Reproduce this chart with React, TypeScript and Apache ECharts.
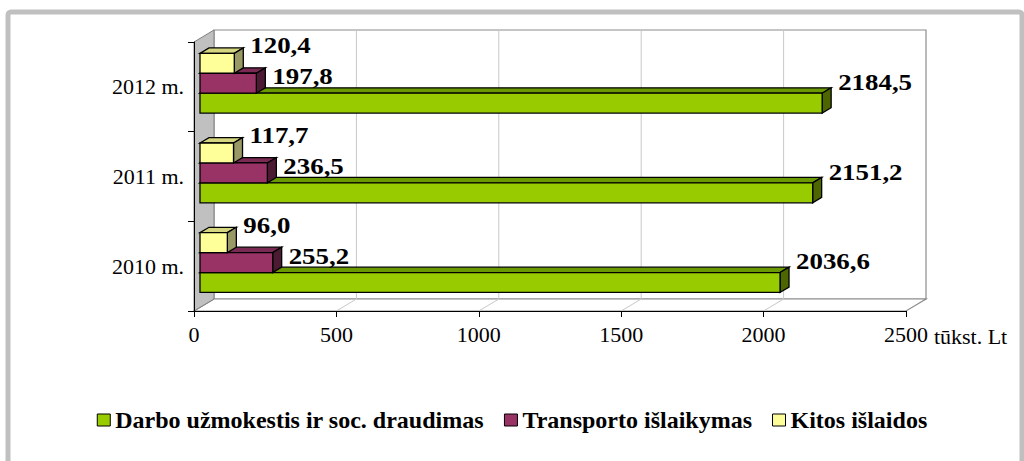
import React, { useEffect, useRef } from "react";
import * as echarts from "echarts";

const categories = ["2010 m.", "2011 m.", "2012 m."];
const seriesNames = ["Darbo užmokestis ir soc. draudimas", "Transporto išlaikymas", "Kitos išlaidos"];
const wages = [2036.6, 2151.2, 2184.5];
const transport = [255.2, 236.5, 197.8];
const other = [96.0, 117.7, 120.4];
const xTicks = [0, 500, 1000, 1500, 2000, 2500];

const FONT = "Liberation Serif, Times New Roman, serif";
// depth of the 3D plot box (pixels)
const DEPTH = { x: 20, y: -12 };
const BAR_FRONT = 0.3;
const BAR_BACK = 0.75;

const faceColors = [
  { front: "#99cc00", top: "#6b9900", side: "#4d6600" },
  { front: "#993366", top: "#7a2952", side: "#4d1a33" },
  { front: "#ffff99", top: "#d6d680", side: "#999966" },
];
const labelLift = [-21, -7, -18];

function makeBarRenderer(s: number) {
  return (params: any, api: any) => {
    const value = api.value(0);
    const cat = api.value(1);
    const start = api.coord([0, cat]);
    const end = api.coord([value, cat]);
    const bandH = api.size([0, 1])[1];
    const w = bandH / 4.5;
    const yc = start[1];
    const top0 = yc + 0.5 * w - s * w;
    const fx = DEPTH.x * BAR_FRONT;
    const fy = DEPTH.y * BAR_FRONT;
    const ddx = DEPTH.x * (BAR_BACK - BAR_FRONT);
    const ddy = DEPTH.y * (BAR_BACK - BAR_FRONT);
    const x0 = start[0] + fx;
    const x1 = end[0] + fx;
    const yt = top0 + fy;
    const yb = yt + w;
    const c = faceColors[s];
    const line = { stroke: "#000", lineWidth: 1.3, lineJoin: "miter" };
    const label = value.toFixed(1).replace(".", ",");
    return {
      type: "group",
      children: [
        {
          type: "polygon",
          shape: { points: [[x0, yt], [x1, yt], [x1 + ddx, yt + ddy], [x0 + ddx, yt + ddy]] },
          style: { fill: c.top, ...line },
        },
        {
          type: "polygon",
          shape: { points: [[x1, yt], [x1 + ddx, yt + ddy], [x1 + ddx, yb + ddy], [x1, yb]] },
          style: { fill: c.side, ...line },
        },
        {
          type: "rect",
          shape: { x: x0, y: yt, width: x1 - x0, height: w },
          style: { fill: c.front, ...line },
        },
        {
          type: "text",
          x: x1 + ddx + 7,
          y: yt + w / 2 + labelLift[s],
          scaleX: 1.12,
          style: {
            text: label,
            font: `bold 24px ${FONT}`,
            fill: "#000",
            align: "left",
            verticalAlign: "middle",
          },
        },
      ],
    };
  };
}

function renderWalls(params: any, api: any) {
  const cs = params.coordSys;
  const x0 = cs.x;
  const y0 = cs.y;
  const x1 = cs.x + cs.width;
  const y1 = cs.y + cs.height;
  const dx = DEPTH.x;
  const dy = DEPTH.y;
  const children: any[] = [];
  children.push({
    type: "rect",
    shape: { x: x0 + dx, y: y0 + dy, width: cs.width, height: cs.height },
    style: { fill: "#fff", stroke: "#8c8c8c", lineWidth: 1.2 },
  });
  children.push({
    type: "polygon",
    shape: { points: [[x0, y1], [x1, y1], [x1 + dx, y1 + dy], [x0 + dx, y1 + dy]] },
    style: { fill: "#fff", stroke: "#8c8c8c", lineWidth: 1.2 },
  });
  xTicks.forEach((v, i) => {
    if (i === 0 || i === xTicks.length - 1) return;
    const X = api.coord([v, 0])[0];
    children.push({
      type: "line",
      shape: { x1: X + dx, y1: y0 + dy, x2: X + dx, y2: y1 + dy },
      style: { stroke: "#c8c8c8", lineWidth: 1 },
    });
    children.push({
      type: "line",
      shape: { x1: X, y1: y1, x2: X + dx, y2: y1 + dy },
      style: { stroke: "#c8c8c8", lineWidth: 1 },
    });
  });
  children.push({
    type: "polygon",
    shape: { points: [[x0, y0], [x0 + dx, y0 + dy], [x0 + dx, y1 + dy], [x0, y1]] },
    style: { fill: "#c0c0c0", stroke: "#808080", lineWidth: 1 },
  });
  return { type: "group", children };
}

export default function App() {
  const ref = useRef<HTMLDivElement>(null);
  useEffect(() => {
    if (!ref.current) return;
    const chart = echarts.init(ref.current, undefined, { renderer: "svg" });
    const valueSets = [wages, transport, other];
    const option: any = {
      animation: false,
      backgroundColor: "#fff",
      grid: { left: 194, right: 118, top: 42, bottom: 150, containLabel: false },
      xAxis: {
        type: "value",
        min: 0,
        max: 2500,
        interval: 500,
        axisLine: { show: true, lineStyle: { color: "#000", width: 1 } },
        axisTick: { show: true, length: 6, lineStyle: { color: "#000" } },
        axisLabel: {
          fontFamily: FONT,
          fontSize: 22,
          color: "#000",
          margin: 12,
          formatter: (v: number) => String(v),
        },
        splitLine: { show: false },
        name: "tūkst. Lt",
        nameLocation: "end",
        nameGap: 21,
        nameTextStyle: {
          fontFamily: FONT,
          fontSize: 22,
          color: "#000",
          align: "left",
          verticalAlign: "top",
          padding: [14, 0, 0, 0],
        },
      },
      yAxis: {
        type: "category",
        data: categories,
        axisLine: { show: true, lineStyle: { color: "#000", width: 1 } },
        axisTick: { show: true, length: 6, lineStyle: { color: "#000" } },
        axisLabel: { fontFamily: FONT, fontSize: 22, color: "#000", margin: 10 },
        splitLine: { show: false },
      },
      legend: {
        data: seriesNames,
        left: "center",
        top: 403,
        icon: "rect",
        itemWidth: 13,
        itemHeight: 12,
        itemGap: 20,
        itemStyle: { borderColor: "#000", borderWidth: 1 },
        textStyle: { fontFamily: FONT, fontSize: 24, fontWeight: "bold", color: "#000" },
      },
      series: [
        {
          type: "custom",
          name: "walls",
          z: -1,
          silent: true,
          renderItem: renderWalls,
          data: [[0, 0]],
          encode: { x: 0, y: 1 },
        },
        ...valueSets.map((vals, s) => ({
          type: "custom",
          name: seriesNames[s],
          itemStyle: { color: faceColors[s].front, borderColor: "#000", borderWidth: 1 },
          renderItem: makeBarRenderer(s),
          encode: { x: 0, y: 1 },
          data: vals.map((v, i) => [v, i]),
        })),
      ],
      graphic: [
        {
          type: "rect",
          z: 100,
          silent: true,
          shape: { x: 8, y: 12, width: 1014, height: 470, r: 3 },
          style: { fill: "none", stroke: "#c0c0c0", lineWidth: 5 },
        },
      ],
    };
    chart.setOption(option);
    return () => chart.dispose();
  }, []);
  return (
    <div
      ref={ref}
      style={{ position: "absolute", left: 0, top: 0, width: 1024, height: 461 }}
    />
  );
}
